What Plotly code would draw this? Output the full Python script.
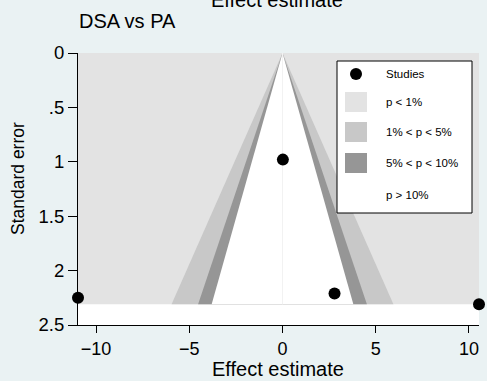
import plotly.graph_objects as go

# ---- data ----
study_effect = [-10.97, 0.02, 2.79, 10.54]
study_se = [2.25, 0.98, 2.21, 2.31]

# contour z-values (two-sided p = 1%, 5%, 10%)
contour_z = [2.576, 1.96, 1.645]
contour_colors = ["#c8c8c8", "#969696", "#ffffff"]
outer_color = "#e3e3e3"

legend_labels = ["Studies", "p < 1%", "1% < p < 5%", "5% < p < 10%", "p > 10%"]
legend_colors = [None, "#e3e3e3", "#c8c8c8", "#969696", "#ffffff"]

xtick_vals = [-10, -5, 0, 5, 10]
ytick_vals = [0, 0.5, 1, 1.5, 2, 2.5]
ytick_text = ["0", ".5", "1", "1.5", "2", "2.5"]

FONT = "Liberation Sans, Arial, sans-serif"

xmin, xmax = min(study_effect), max(study_effect)
se_max = max(study_se)

fig = go.Figure()

# p < 1% region: full rectangle
fig.add_trace(go.Scatter(
    x=[xmin, xmax, xmax, xmin, xmin], y=[0, 0, se_max, se_max, 0],
    fill="toself", fillcolor=outer_color, line=dict(width=0),
    mode="lines", hoverinfo="skip", showlegend=False))

for z, col in zip(contour_z, contour_colors):
    fig.add_trace(go.Scatter(
        x=[0, z * se_max, -z * se_max, 0], y=[0, se_max, se_max, 0],
        fill="toself", fillcolor=col, line=dict(width=0),
        mode="lines", hoverinfo="skip", showlegend=False))

# faint null line
fig.add_trace(go.Scatter(x=[0, 0], y=[0, se_max], mode="lines",
                         line=dict(color="#f2f2f2", width=1),
                         hoverinfo="skip", showlegend=False))

fig.add_trace(go.Scatter(
    x=study_effect, y=study_se, mode="markers",
    marker=dict(color="black", size=12), cliponaxis=False,
    showlegend=False, name="Studies"))

# ---- layout geometry (pixels) ----
W, H = 487, 381
L, R, T, B = 78, 479, 53, 325

def px(xp):
    return (xp - L) / (R - L)

def py(yp):
    return 1 - (yp - T) / (B - T)

shapes = []
annotations = []

# legend box
shapes.append(dict(type="rect", xref="paper", yref="paper",
                   x0=px(337), x1=px(472), y0=py(61), y1=py(213),
                   fillcolor="white", line=dict(color="black", width=1), layer="above"))
rows_y = [74, 102, 132, 163, 195]
for lab, col, ry in zip(legend_labels, legend_colors, rows_y):
    if lab == "Studies":
        shapes.append(dict(type="circle", xref="paper", yref="paper",
                           x0=px(350), x1=px(362), y0=py(ry - 6), y1=py(ry + 6),
                           fillcolor="black", line=dict(color="black", width=0), layer="above"))
    else:
        shapes.append(dict(type="rect", xref="paper", yref="paper",
                           x0=px(345), x1=px(367), y0=py(ry - 10), y1=py(ry + 10),
                           fillcolor=col, line=dict(width=0), layer="above"))
    annotations.append(dict(xref="paper", yref="paper", x=px(384), y=py(ry),
                            xanchor="left", yanchor="middle", showarrow=False,
                            text=lab, font=dict(size=11.5, color="black", family=FONT)))

annotations.append(dict(xref="paper", yref="paper", x=px(277), y=py(0),
                        xanchor="center", yanchor="middle", showarrow=False,
                        text="Effect estimate", font=dict(size=20, color="black", family=FONT)))
annotations.append(dict(xref="paper", yref="paper", x=px(77), y=py(20.5),
                        xanchor="left", yanchor="middle", showarrow=False,
                        text="DSA vs PA", font=dict(size=20, color="black", family=FONT)))
# axis titles
annotations.append(dict(xref="paper", yref="paper", x=px(278), y=py(369),
                        xanchor="center", yanchor="middle", showarrow=False,
                        text="Effect estimate", font=dict(size=20, color="black", family=FONT)))
annotations.append(dict(xref="paper", yref="paper", x=px(18), y=py(179),
                        xanchor="center", yanchor="middle", showarrow=False, textangle=-90,
                        text="Standard error", font=dict(size=17.5, color="black", family=FONT)))

fig.update_layout(
    width=W, height=H,
    margin=dict(l=L, r=W - R, t=T, b=H - B),
    paper_bgcolor="#eaf2f3", plot_bgcolor="white",
    font=dict(family=FONT, size=18, color="black"),
    shapes=shapes, annotations=annotations,
    showlegend=False,
)
fig.update_xaxes(range=[xmin, xmax], tickvals=xtick_vals, showgrid=False, zeroline=False,
                 showline=True, linecolor="black", linewidth=1, ticks="outside",
                 ticklen=7, tickcolor="black", tickfont=dict(size=18))
fig.update_yaxes(range=[2.5, 0], tickvals=ytick_vals, ticktext=ytick_text,
                 showgrid=False, zeroline=False,
                 showline=True, linecolor="black", linewidth=1, ticks="outside",
                 ticklen=9, tickcolor="black", tickfont=dict(size=18.5))

fig.write_html("out.html")
